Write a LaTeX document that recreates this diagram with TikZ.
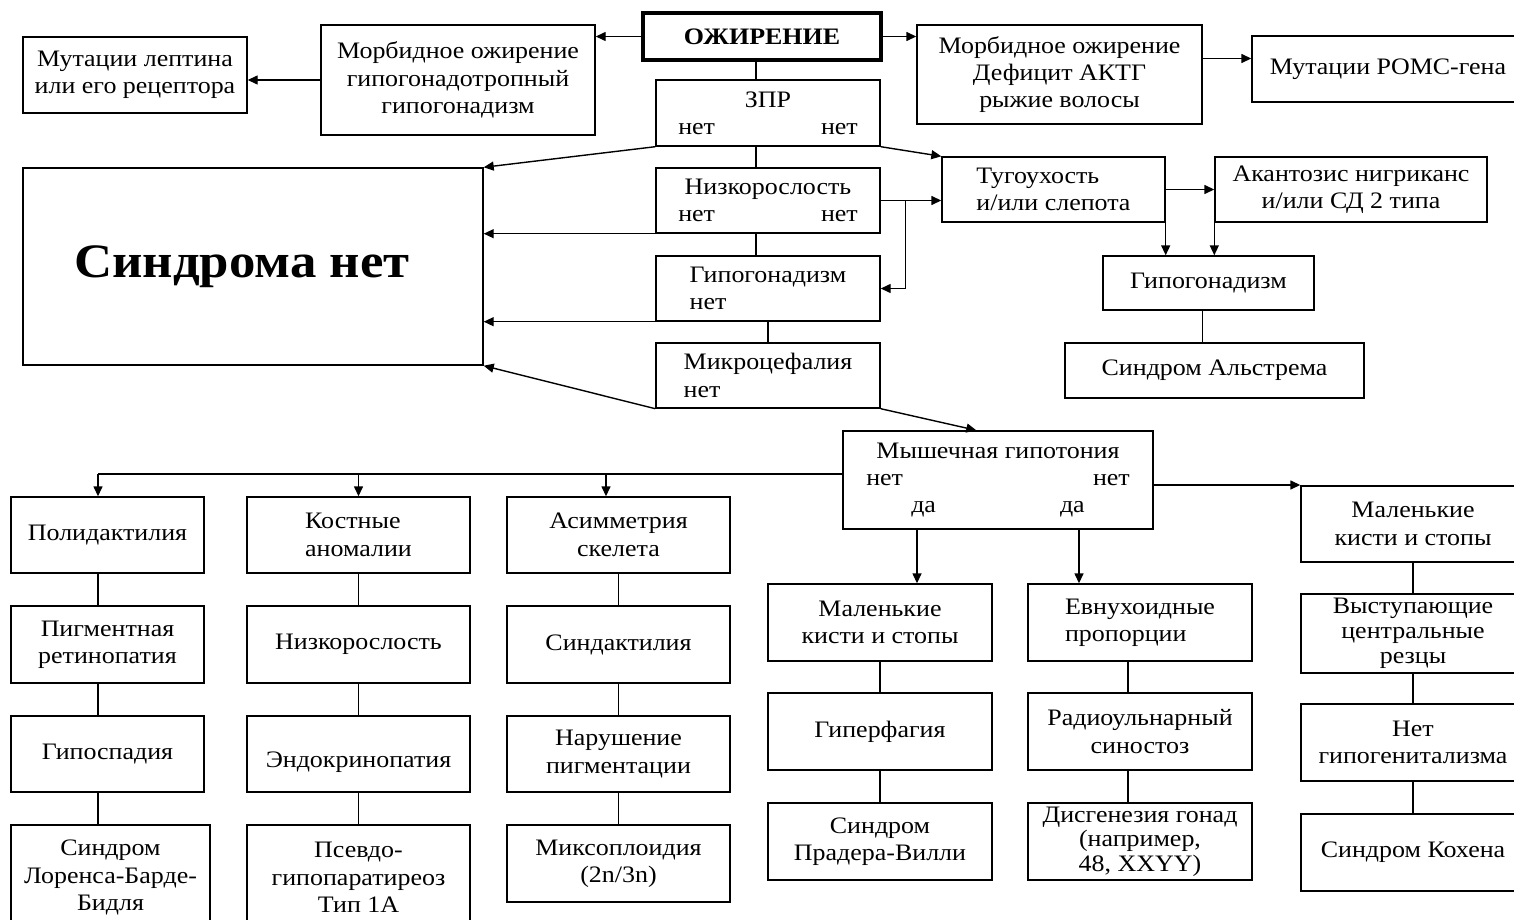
\documentclass[tikz,border=0pt]{standalone}
\usepackage{fontspec}
\setmainfont{Liberation Serif}[FakeStretch=1.1]
\usetikzlibrary{arrows.meta}
\newcommand\fs{\fontsize{11.8}{13.7}\selectfont}
\tikzset{
  box/.style={draw, line width=0.7pt, inner sep=2pt, align=center, font=\fs},
  ln/.style={line width=0.7pt},
  arr/.style={line width=0.7pt, -{Triangle[length=5pt,width=4.5pt]}},
}
\begin{document}
\begin{tikzpicture}[x=0.5pt, y=-0.5pt]
  \useasboundingbox (0,0) rectangle (1514,920);
  % top row
  \node[box, line width=2pt, minimum width=119pt, minimum height=23.5pt, font=\fs\bfseries] (ozh) at (762,36.5) {ОЖИРЕНИЕ};
  \node[box, minimum width=137pt, minimum height=55pt] (morbL) at (458,80) {Морбидное ожирение\\гипогонадотропный\\гипогонадизм};
  \node[box, minimum width=112pt, minimum height=38pt] (lep) at (135,75) {Мутации лептина\\или его рецептора};
  \node[box, minimum width=142.5pt, minimum height=49.5pt] (morbR) at (1059.5,74.5) {Морбидное ожирение\\Дефицит АКТГ\\рыжие волосы};
  \node[box, minimum width=136pt, minimum height=33pt] (pomc) at (1388,69) {Мутации POMC-гена};
  % middle spine
  \node[box, minimum width=112pt, minimum height=33pt] (zpr) at (768,113) {ЗПР\\нет\hspace{53pt}нет};
  \node[box, minimum width=112pt, minimum height=32.5pt] (nizk) at (768,200.5) {Низкорослость\\нет\hspace{53pt}нет};
  \node[box, minimum width=112pt, minimum height=32.5pt, align=left] (gipo) at (768,288.5) {Гипогонадизм\\нет};
  \node[box, minimum width=112pt, minimum height=32.5pt, align=left] (micro) at (768,375.5) {Микроцефалия\\нет};
  \node[box, minimum width=230pt, minimum height=98.5pt, font=\fontsize{24}{28}\selectfont\bfseries] (nosyn) at (253,266.5) {Синдрома нет\hspace*{11pt}};
  % right branch
  \node[box, minimum width=111.5pt, minimum height=32.5pt, align=left] (tug) at (1053.5,189.5) {Тугоухость\\и/или слепота};
  \node[box, minimum width=136pt, minimum height=32.5pt] (akan) at (1351,189.5) {Акантозис нигриканс\\и/или СД 2 типа};
  \node[box, minimum width=105.5pt, minimum height=27pt] (gip2) at (1208.5,283) {Гипогонадизм};
  \node[box, minimum width=149.5pt, minimum height=27.5pt] (alst) at (1214.5,370.5) {Синдром Альстрема};
  \node[box, minimum width=155pt, minimum height=49pt] (mysh) at (998,480) {Мышечная гипотония\\нет\hspace{95pt}нет\\да\hspace{62pt}да};
  % lower columns
  \node[box, minimum width=96.5pt, minimum height=38pt] (poly) at (107.5,535) {Полидактилия};
  \node[box, minimum width=96.5pt, minimum height=38.5pt] (pigm) at (107.5,644.5) {Пигментная\\ретинопатия};
  \node[box, minimum width=96.5pt, minimum height=38pt] (hypos) at (107.5,754) {Гипоспадия};
  \node[box, minimum width=99.5pt, minimum height=52.5pt] (lbb) at (110.5,877.5) {Синдром\\Лоренса-Барде-\\Бидля};
  \node[box, minimum width=111.5pt, minimum height=38pt, align=left] (kost) at (358.5,535) {Костные\\аномалии};
  \node[box, minimum width=111.5pt, minimum height=38.5pt] (nizk2) at (358.5,644.5) {Низкорослость};
  \node[box, minimum width=111.5pt, minimum height=38pt, text height=16pt] (endo) at (358.5,754) {Эндокринопатия};
  \node[box, minimum width=111.5pt, minimum height=52.5pt] (pseudo) at (358.5,877.5) {Псевдо-\\гипопаратиреоз\\Тип 1А};
  \node[box, minimum width=111.5pt, minimum height=38pt] (asim) at (618.5,535) {Асимметрия\\скелета};
  \node[box, minimum width=111.5pt, minimum height=38.5pt] (synd) at (618.5,644.5) {Синдактилия};
  \node[box, minimum width=111.5pt, minimum height=38pt] (narush) at (618.5,754) {Нарушение\\пигментации};
  \node[box, minimum width=111.5pt, minimum height=38.5pt] (mixo) at (618.5,863.5) {Миксоплоидия\\(2n/3n)};
  \node[box, minimum width=112pt, minimum height=38.5pt] (malk) at (880,622.5) {Маленькие\\кисти и стопы};
  \node[box, minimum width=112pt, minimum height=38.5pt] (hyperf) at (880,731.5) {Гиперфагия};
  \node[box, minimum width=112pt, minimum height=38.5pt] (pw) at (880,841.5) {Синдром\\Прадера-Вилли};
  \node[box, minimum width=112pt, minimum height=38.5pt, align=left] (evn) at (1140,622.5) {Евнухоидные\\пропорции};
  \node[box, minimum width=112pt, minimum height=38.5pt] (radio) at (1140,731.5) {Радиоульнарный\\синостоз};
  \node[box, minimum width=112pt, minimum height=38.5pt, inner sep=1pt, font=\fontsize{11.8}{12.2}\selectfont] (disg) at (1140,841.5) {Дисгенезия гонад\\(например,\\48, XXYY)};
  \node[box, minimum width=112pt, minimum height=38pt] (malk2) at (1413,524) {Маленькие\\кисти и стопы};
  \node[box, minimum width=112pt, minimum height=38.5pt, font=\fontsize{11.8}{12.6}\selectfont] (vyst) at (1413,633.5) {Выступающие\\центральные\\резцы};
  \node[box, minimum width=112pt, minimum height=38.5pt] (netg) at (1413,742.5) {Нет\\гипогенитализма};
  \node[box, minimum width=112pt, minimum height=38.5pt] (kohen) at (1413,852.5) {Синдром Кохена};
  % connectors, top
  \draw[arr] (ozh.west) -- (ozh.west -| morbL.east);
  \draw[arr] (morbL.west) -- (morbL.west -| lep.east);
  \draw[arr] (ozh.east) -- (ozh.east -| morbR.west);
  \draw[arr] ([yshift=8pt]morbR.east) -- ([yshift=8pt]morbR.east -| pomc.west);
  \draw[ln] ([xshift=-3pt]ozh.south) -- ([xshift=-3pt]ozh.south |- zpr.north);
  \draw[ln] ([xshift=-6pt]zpr.south) -- ([xshift=-6pt]nizk.north);
  \draw[ln] ([xshift=-6pt]nizk.south) -- ([xshift=-6pt]gipo.north);
  \draw[ln] (gipo.south) -- (micro.north);
  % to "no syndrome"
  \draw[arr] (zpr.south west) -- (nosyn.north east);
  \draw[arr] (nizk.south west) -- (nizk.south west -| nosyn.east);
  \draw[arr] (gipo.south west) -- (gipo.south west -| nosyn.east);
  \draw[arr] (micro.south west) -- (nosyn.south east);
  % right branch
  \draw[arr] (zpr.south east) -- (tug.north west);
  \draw[arr] (nizk.east) -- (nizk.east -| tug.west);
  \coordinate[xshift=12.5pt] (fork) at (nizk.east);
  \draw[arr] (fork) |- (gipo.east);
  \draw[arr] (tug.east) -- (akan.west);
  \draw[arr] (tug.south east) -- (tug.south east |- gip2.north);
  \draw[arr] (akan.south west) -- (akan.south west |- gip2.north);
  \draw[ln] ([xshift=-3pt]gip2.south) -- ([xshift=-3pt]gip2.south |- alst.north);
  \draw[arr] (micro.south east) -- ([xshift=67pt]mysh.north west);
  % hypotonia branches
  \coordinate (hl) at (98,474);
  \draw[ln] ([yshift=3pt]mysh.west) -- (hl);
  \draw[arr] (hl) -- (hl |- poly.north);
  \draw[arr] (hl -| kost.north) -- (kost.north);
  \draw[arr] ([xshift=-6.25pt]hl -| asim.north) -- ([xshift=-6.25pt]asim.north);
  \draw[arr] ([xshift=18.5pt]malk.north |- mysh.south) -- ([xshift=18.5pt]malk.north);
  \draw[arr] ([xshift=-30.5pt]evn.north |- mysh.south) -- ([xshift=-30.5pt]evn.north);
  \draw[arr] ([yshift=-2.5pt]mysh.east) -- ([yshift=-2.5pt]mysh.east -| malk2.west);
  % columns
  \draw[ln] ([xshift=-4.75pt]poly.south) -- ([xshift=-4.75pt]pigm.north);
  \draw[ln] ([xshift=-4.75pt]pigm.south) -- ([xshift=-4.75pt]hypos.north);
  \draw[ln] ([xshift=-4.75pt]hypos.south) -- ([xshift=-4.75pt]hypos.south |- lbb.north);
  \draw[ln] (kost.south) -- (nizk2.north);
  \draw[ln] (nizk2.south) -- (endo.north);
  \draw[ln] (endo.south) -- (pseudo.north);
  \draw[ln] (asim.south) -- (synd.north);
  \draw[ln] (synd.south) -- (narush.north);
  \draw[ln] (narush.south) -- (mixo.north);
  \draw[ln] (malk.south) -- (hyperf.north);
  \draw[ln] (hyperf.south) -- (pw.north);
  \draw[ln] ([xshift=-6pt]evn.south) -- ([xshift=-6pt]radio.north);
  \draw[ln] ([xshift=-6pt]radio.south) -- ([xshift=-6pt]disg.north);
  \draw[ln] (malk2.south) -- (vyst.north);
  \draw[ln] (vyst.south) -- (netg.north);
  \draw[ln] (netg.south) -- (kohen.north);
\end{tikzpicture}
\end{document}
